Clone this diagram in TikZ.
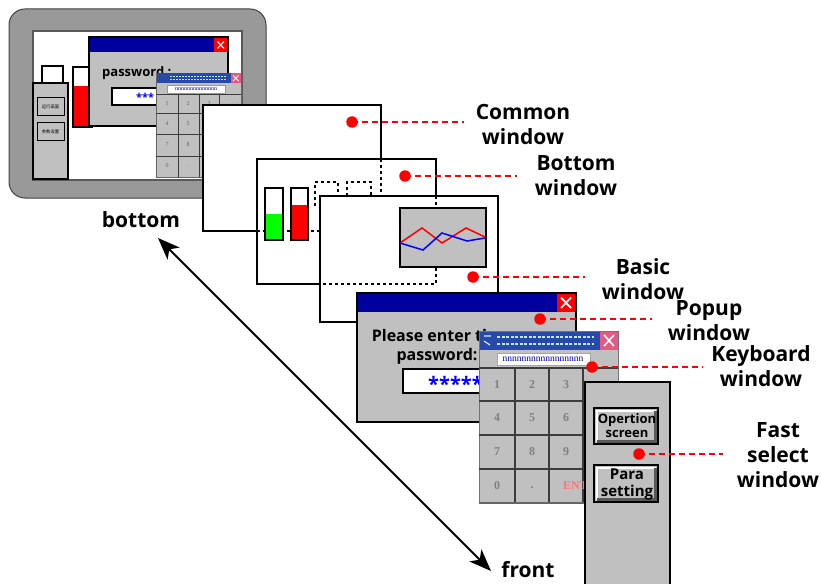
\documentclass[tikz,border=0pt]{standalone}
\usepackage{fontspec}
\setmainfont{Open Sans}
\newfontfamily\cjk{Noto Sans CJK SC}
\newfontfamily\kbfont{Liberation Serif}
\usetikzlibrary{arrows.meta}
\definecolor{winGray}{RGB}{192,192,192}
\definecolor{frameGray}{RGB}{153,153,153}
\definecolor{titleBlue}{RGB}{0,0,158}
\definecolor{kbBlue}{RGB}{40,72,170}
\definecolor{kbX}{RGB}{228,90,130}
\definecolor{keyLine}{RGB}{60,60,60}
\begin{document}
\begin{tikzpicture}[x=1pt,y=-1pt,
  win/.style={draw=black, line width=1.6pt, fill=white},
  gwin/.style={draw=black, line width=1.6pt, fill=winGray},
  dotl/.style={black, line width=1.4pt, dash pattern=on 3pt off 3pt},
  rdash/.style={red, line width=2.6pt, dash pattern=on 6pt off 4pt},
  rdot/.style={circle, fill=red, inner sep=0pt, minimum size=11.5pt},
  lbl/.style={font=\fontsize{21}{25}\selectfont\bfseries, align=center, text=black, inner sep=0pt},
  kbkey/.style={font=\kbfont\bfseries\fontsize{12}{12}\selectfont, text=black!50, inner sep=0pt},
  skey/.style={font=\kbfont\fontsize{6}{6}\selectfont, text=black!60, inner sep=0pt},
]
\useasboundingbox (0,0) rectangle (821,583);

% ---------- HMI device ----------
\draw[fill=frameGray, draw=black!75, line width=1pt, rounded corners=16pt] (9,9) rectangle (266,198);
\draw[fill=white, draw=black!65, line width=1.2pt] (33,31) rectangle (242,180);
% small fast select
\draw[fill=white, draw=black, line width=1.2pt] (42,66) rectangle (63,83);
\draw[fill=winGray, draw=black, line width=1.2pt] (33,83) rectangle (68,179);
\draw[fill=winGray, draw=black, line width=1pt] (37,98) rectangle (64,116);
\node[font=\cjk\fontsize{4.3}{4.3}\selectfont, inner sep=0pt] (sb1) at (50.5,107) {运行画面};
\draw[fill=winGray, draw=black, line width=1pt] (37,123) rectangle (64,140);
\node[font=\cjk\fontsize{4.3}{4.3}\selectfont, inner sep=0pt] (sb2) at (50.5,131.5) {参数设置};
% small red bar
\draw[fill=white, draw=black, line width=1.2pt] (73,67) rectangle (92,127);
\fill[red] (74,86) rectangle (91,126);
% small popup
\draw[fill=winGray, draw=black, line width=1.2pt] (89,37) rectangle (228,126);
\fill[titleBlue] (89.6,37.6) rectangle (227.4,52);
\fill[red] (214,38) rectangle (227.4,52);
\draw[white, line width=1.1pt] (217.5,41.5) -- (224,48.5) (217.5,48.5) -- (224,41.5);
\node[anchor=west, font=\fontsize{13}{13}\selectfont\bfseries, inner sep=0pt] (spw) at (102,73) {password :};
\draw[fill=white, draw=black, line width=1.2pt] (112,88) rectangle (170,105);
\node[anchor=west, text=blue, font=\fontsize{11}{11}\selectfont\bfseries, inner sep=0pt] (sast) at (136,97.5) {***};
% small keyboard
\draw[fill=winGray, draw=black!60, line width=0.8pt] (156,73) rectangle (241,177);
\fill[kbBlue] (156.5,73.5) rectangle (240.5,83);
\draw[cyan!25, line width=1pt, dash pattern=on 2pt off 1pt] (170,76.5) -- (226,76.5) (170,80) -- (226,80);
\fill[kbX] (231,73.5) rectangle (240.5,83);
\draw[white, line width=0.9pt] (233,75.5) -- (238.5,81) (233,81) -- (238.5,75.5);
\draw[fill=white, draw=black!40, line width=0.5pt] (167,85.5) rectangle (225,93);
\node[text=blue!70!black, font=\kbfont\fontsize{6}{6}\selectfont, inner sep=0pt] (sdisp) at (196,89.5) {nnnnnnnnnnnnnn};
\draw[keyLine, line width=0.8pt] (156,94) -- (241,94) (156,113) -- (241,113) (156,134) -- (241,134) (156,156) -- (241,156)
  (178,94) -- (178,177) (199,94) -- (199,177) (219,94) -- (219,177);
\node[skey] (s1) at (167,104) {1}; \node[skey] (s2) at (188,104) {2}; \node[skey] (s3) at (209,104) {3};
\node[skey, text=red!50] (s4c) at (230,104) {Cancel};
\node[skey] (s4) at (167,124) {4}; \node[skey] (s5) at (188,124) {5}; \node[skey] (s6) at (209,124) {6};
\node[skey] (s7) at (167,145) {7}; \node[skey] (s8) at (188,145) {8}; \node[skey] (s9) at (209,145) {9};
\node[skey] (s0) at (167,166) {0}; \node[skey] (sdot) at (188,166) {.};

% ---------- Common window ----------
\draw[win] (203,105) rectangle (381,231);
% ---------- Bottom window ----------
\draw[win] (257,159) rectangle (436,284);
\draw[dotl] (381,159) -- (381,196);
\draw[dotl] (257,231) -- (320,231);
\draw[fill=white, draw=black, line width=1.4pt] (265,188) rectangle (283,240);
\fill[green] (266,214) rectangle (282,239);
\draw[fill=white, draw=black, line width=1.4pt] (291,188) rectangle (308,240);
\fill[red] (292,205) rectangle (307,239);
\draw[dotl] (315,206) -- (315,182) -- (338,182) -- (338,196);
\draw[dotl] (347,196) -- (347,182) -- (371,182) -- (371,196);
% ---------- Basic window ----------
\draw[win] (320,196) rectangle (498,322);
\draw[dotl] (436,196) -- (436,284) -- (320,284);
\draw[fill=winGray, draw=black, line width=1.6pt] (400,208) rectangle (486,267);
\draw[red, line width=1.5pt] (400,243) -- (422,228) -- (442,243) -- (466,228) -- (485,237);
\draw[blue, line width=1.5pt] (400,243) -- (423,250) -- (442,233) -- (467,241) -- (485,238);

% ---------- Popup window ----------
\draw[gwin] (357,293) rectangle (576,422);
\fill[titleBlue] (357.8,293.8) rectangle (575.2,312);
\fill[red] (557,293.8) rectangle (575.2,312);
\draw[white, line width=1.8pt] (561,297.5) -- (571,308) (561,308) -- (571,297.5);
\node[font=\fontsize{16}{18.5}\selectfont\bfseries, align=center, inner sep=0pt] (ptext) at (437,347) {Please enter the\\password:};
\draw[fill=white, draw=black, line width=1.6pt] (403,369) rectangle (520,393);
\node[anchor=west, text=blue, font=\fontsize{20}{20}\selectfont\bfseries, inner sep=0pt] (past) at (428,384) {******};

% ---------- Keyboard window ----------
\draw[fill=winGray, draw=black!55, line width=1pt] (479,331) rectangle (618,503);
\fill[kbBlue] (479.5,331.5) rectangle (617.5,350);
\draw[cyan!25, line width=1.6pt, dash pattern=on 3pt off 1.5pt] (497,337) -- (594,337) (497,344) -- (594,344);
\draw[white!80!cyan, line width=1.2pt] (484,336) -- (491,336) (484,341) -- (490,345);
\fill[kbX] (600,331.5) rectangle (617.5,350);
\draw[white, line width=1.6pt] (604,335) -- (614,346) (604,346) -- (614,335);
\draw[fill=white, draw=black!35, line width=0.6pt] (497,353) rectangle (590,365);
\node[text=blue!70!black, font=\kbfont\fontsize{9.5}{9.5}\selectfont, inner sep=0pt] (disp) at (543,359) {nnnnnnnnnnnnnnnnn};
\draw[keyLine, line width=1.4pt] (479,368) -- (618,368) (479,401) -- (618,401) (479,435) -- (618,435) (479,469) -- (618,469)
  (515,368) -- (515,503) (549,368) -- (549,503) (583,368) -- (583,503);
\draw[black!60, line width=1.4pt] (479,503) -- (618,503);
\node[kbkey] (k1) at (497,385) {1}; \node[kbkey] (k2) at (532,385) {2}; \node[kbkey] (k3) at (566,385) {3};
\node[kbkey] (k4) at (497,418) {4}; \node[kbkey] (k5) at (532,418) {5}; \node[kbkey] (k6) at (566,418) {6};
\node[kbkey] (k7) at (497,452) {7}; \node[kbkey] (k8) at (532,452) {8}; \node[kbkey] (k9) at (566,452) {9};
\node[kbkey] (k0) at (497,486) {0}; \node[kbkey] (kdot) at (532,488) {.};
\node[kbkey, text=red!55, anchor=west] (kent) at (563,486) {ENT};

% ---------- Fast select window ----------
\draw[gwin] (585,382) rectangle (670,592);
\draw[fill=winGray, draw=black, line width=1.4pt] (594,408) rectangle (658,444);
\draw[white, line width=2pt] (596.5,441.5) -- (596.5,410.5) -- (655.5,410.5);
\draw[black!65, line width=2.4pt] (596.5,441.5) -- (655.5,441.5) -- (655.5,410.5);
\node[font=\fontsize{13}{14}\selectfont\bfseries, align=center, inner sep=0pt] (fb1) at (627,425.5) {Opertion\\screen};
\draw[fill=winGray, draw=black, line width=1.4pt] (594,465) rectangle (658,502);
\draw[white, line width=2pt] (596.5,499.5) -- (596.5,467.5) -- (655.5,467.5);
\draw[black!65, line width=2.4pt] (596.5,499.5) -- (655.5,499.5) -- (655.5,467.5);
\node[font=\fontsize{15}{17}\selectfont\bfseries, align=center, inner sep=0pt] (fb2) at (627,484) {Para\\setting};

% ---------- Callouts ----------
\node[rdot] (dCommon) at (352,122) {};
\coordinate (eCommon) at (464,122);
\draw[rdash] (dCommon.center) -- (eCommon);
\node[lbl] (lCommon) at (523,124) {Common\\window};

\node[rdot] (dBottom) at (405,176) {};
\coordinate (eBottom) at (517,176);
\draw[rdash] (dBottom.center) -- (eBottom);
\node[lbl] (lBottom) at (576,176) {Bottom\\window};

\node[rdot] (dBasic) at (473,277) {};
\coordinate (eBasic) at (585,277);
\draw[rdash] (dBasic.center) -- (eBasic);
\node[lbl] (lBasic) at (643,279) {Basic\\window};

\node[rdot] (dPopup) at (540,319) {};
\coordinate (ePopup) at (652,319);
\draw[rdash] (dPopup.center) -- (ePopup);
\node[lbl] (lPopup) at (709,321) {Popup\\window};

\node[rdot] (dKey) at (592,367) {};
\coordinate (eKey) at (703,367);
\draw[rdash] (dKey.center) -- (eKey);
\node[lbl] (lKey) at (761,366) {Keyboard\\window};

\node[rdot] (dFast) at (639,454) {};
\coordinate (eFast) at (723,454);
\draw[rdash] (dFast.center) -- (eFast);
\node[lbl] (lFast) at (778,455) {Fast\\select\\window};

% ---------- bottom / front arrow ----------
\node[lbl] (lbottom) at (141,220) {bottom};
\node[lbl] (lfront) at (528,570) {front};
\coordinate (aTop) at (158,238);
\coordinate (aBot) at (491,571);
\draw[{Stealth[length=22pt,width=17pt,inset=6pt]}-{Stealth[length=22pt,width=17pt,inset=6pt]}, line width=2pt] (aTop) -- (aBot);
\end{tikzpicture}
\end{document}
